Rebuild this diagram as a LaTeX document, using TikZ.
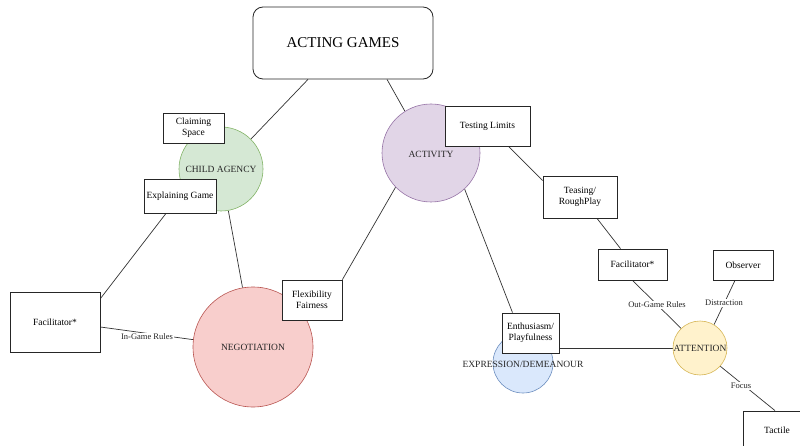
\documentclass[tikz,border=0pt]{standalone}
\usepackage{fontspec}
\setmainfont{Liberation Serif}
\usetikzlibrary{backgrounds}
\definecolor{gfill}{HTML}{D5E8D4}\definecolor{gline}{HTML}{82B366}
\definecolor{pfill}{HTML}{E1D5E7}\definecolor{pline}{HTML}{9673A6}
\definecolor{rfill}{HTML}{F8CECC}\definecolor{rline}{HTML}{B85450}
\definecolor{bfill}{HTML}{DAE8FC}\definecolor{bline}{HTML}{6C8EBF}
\definecolor{yfill}{HTML}{FFF2CC}\definecolor{yline}{HTML}{D6B656}
\begin{document}
\begin{tikzpicture}[x=1pt,y=-1pt,
  box/.style={draw=black!85, line width=0.8pt, fill=white, align=center,
    font=\fontsize{9.5}{11}\selectfont, inner sep=0pt},
  circ/.style={circle, line width=0.6pt, inner sep=0pt},
  ctext/.style={font=\fontsize{9.5}{11}\selectfont, inner sep=0pt, text=black!85},
  conn/.style={draw=black!80, line width=0.7pt},
  elabel/.style={fill=white, font=\fontsize{8.5}{10}\selectfont, inner sep=1pt, text=black!85}]
\useasboundingbox (0,0) rectangle (800,446);
% title
\node[box, rounded corners=10pt, minimum width=180pt, minimum height=72pt,
  font=\fontsize{15}{18}\selectfont] (title) at (343,43) {ACTING GAMES};
% circles
\node[circ, draw=gline, fill=gfill, minimum size=84pt] (cagency) at (221,169) {};
\node[ctext] (cagencyt) at (221,169) {CHILD AGENCY};
\node[circ, draw=pline, fill=pfill, minimum size=98pt] (activity) at (431,153) {};
\node[ctext] (activityt) at (431,154) {ACTIVITY};
\node[circ, draw=rline, fill=rfill, minimum size=120pt] (negot) at (253,347) {};
\node[ctext] (negott) at (253,347) {NEGOTIATION};
\node[circ, draw=bline, fill=bfill, minimum size=60pt] (expr) at (523,363) {};
\node[ctext] (exprt) at (523,364) {EXPRESSION/DEMEANOUR};
\node[circ, draw=yline, fill=yfill, minimum size=54pt] (attention) at (700,348) {};
\node[ctext] (attentiont) at (700,348) {ATTENTION};
% boxes
\node[box, minimum width=61pt, minimum height=30pt] (claim) at (193.5,128) {Claiming\\Space};
\node[box, minimum width=72pt, minimum height=34pt] (explain) at (180,196) {Explaining Game};
\node[box, minimum width=85pt, minimum height=40pt] (testing) at (487.5,126) {Testing Limits};
\node[box, minimum width=74pt, minimum height=42pt] (teasing) at (580,197) {Teasing/\\RoughPlay};
\node[box, minimum width=69pt, minimum height=31pt] (facR) at (632.5,264.5) {Facilitator*};
\node[box, minimum width=60pt, minimum height=30pt] (observer) at (743,265) {Observer};
\node[box, minimum width=68pt, minimum height=38pt] (tactile) at (777,430) {Tactile};
\node[box, minimum width=57pt, minimum height=40pt] (enth) at (530.5,333) {Enthusiasm/\\Playfulness};
\node[box, minimum width=60pt, minimum height=40pt] (flex) at (312,300) {Flexibility\\Fairness};
\node[box, minimum width=90pt, minimum height=60pt] (facL) at (55,322) {Facilitator*};
% connectors
\begin{pgfonlayer}{background}
\draw[conn] ([xshift=-35pt]title.south) -- (cagency.45);
\draw[conn] ([xshift=44pt]title.south) -- (activity.122);
\draw[conn] ([xshift=-14pt]explain.south) -- ([yshift=-7pt]facL.north east);
\draw[conn] (cagency.-80) -- (negot.100);
\draw[conn] ([yshift=-5pt]facL.east) -- (negot.173);
\draw[conn] (activity.-136) -- (flex.north east);
\draw[conn] (activity.-47) -- ([xshift=-18pt]enth.north);
\draw[conn] ([xshift=21pt]testing.south) -- ([yshift=-5pt]teasing.north west);
\draw[conn] ([xshift=17pt]teasing.south) -- ([xshift=-12pt]facR.north);
\draw[conn] (facR.south) -- (attention.134);
\draw[conn] ([xshift=-8pt]observer.south) -- (attention.59);
\draw[conn] (attention.-42) -- ([xshift=-2pt]tactile.north);
\draw[conn] ([yshift=-15pt]enth.east) -- (attention.west);
\end{pgfonlayer}
% edge labels
\node[elabel] (ingame) at (147,337) {In-Game Rules};
\node[elabel] (outgame) at (657,305) {Out-Game Rules};
\node[elabel] (distraction) at (724,303) {Distraction};
\node[elabel] (focus) at (741,386) {Focus};
\end{tikzpicture}
\end{document}
